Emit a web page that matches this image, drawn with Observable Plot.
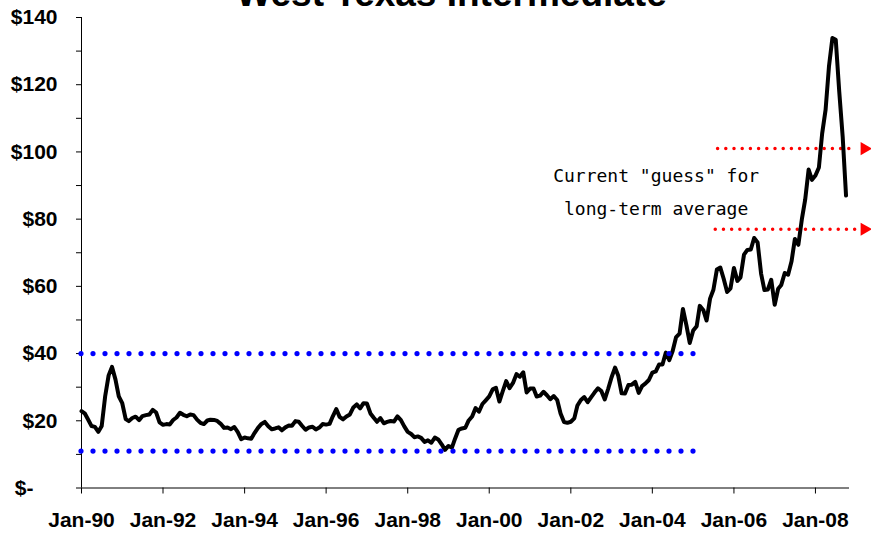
<!DOCTYPE html>
<html>
<head>
<meta charset="utf-8">
<script src="https://cdn.jsdelivr.net/npm/d3@7"></script>
<script src="https://cdn.jsdelivr.net/npm/@observablehq/plot@0.6"></script>
<style>
  html, body { margin: 0; padding: 0; background: #ffffff; }
  #chart svg { display: block; }
</style>
</head>
<body>
<div id="chart"></div>
<script>
// ---- Data (monthly WTI price, $/bbl) ----
const title = "West Texas Intermediate";
const years = [1990, 1991, 1992, 1993, 1994, 1995, 1996, 1997, 1998, 1999,
               2000, 2001, 2002, 2003, 2004, 2005, 2006, 2007, 2008];
const prices1990 = [22.86, 22.11, 20.39, 18.43, 18.20, 16.70, 18.45, 27.31, 33.51, 36.04, 32.33, 27.28];
const prices1991 = [25.23, 20.48, 19.90, 20.83, 21.23, 20.19, 21.40, 21.69, 21.89, 23.23, 22.46, 19.50];
const prices1992 = [18.79, 19.01, 18.92, 20.23, 20.98, 22.39, 21.78, 21.34, 21.88, 21.69, 20.34, 19.41];
const prices1993 = [19.03, 20.09, 20.32, 20.25, 19.95, 19.09, 17.89, 18.01, 17.50, 18.15, 16.61, 14.52];
const prices1994 = [15.03, 14.78, 14.68, 16.42, 17.89, 19.06, 19.66, 18.38, 17.45, 17.72, 18.07, 17.16];
const prices1995 = [18.04, 18.57, 18.54, 19.90, 19.74, 18.45, 17.33, 18.02, 18.23, 17.43, 17.99, 19.03];
const prices1996 = [18.86, 19.09, 21.33, 23.50, 21.17, 20.42, 21.30, 21.90, 23.97, 24.88, 23.71, 25.23];
const prices1997 = [25.13, 22.18, 20.97, 19.70, 20.82, 19.26, 19.66, 19.95, 19.80, 21.33, 20.19, 18.33];
const prices1998 = [16.72, 16.06, 15.12, 15.35, 14.91, 13.72, 14.17, 13.47, 15.03, 14.46, 13.00, 11.35];
const prices1999 = [12.52, 12.01, 14.68, 17.31, 17.72, 17.92, 20.10, 21.28, 23.80, 22.69, 25.00, 26.10];
const prices2000 = [27.26, 29.37, 29.84, 25.72, 28.79, 31.82, 29.70, 31.26, 33.88, 33.11, 34.42, 28.44];
const prices2001 = [29.59, 29.61, 27.24, 27.49, 28.63, 27.60, 26.43, 27.37, 26.20, 22.17, 19.64, 19.39];
const prices2002 = [19.72, 20.72, 24.53, 26.18, 27.04, 25.52, 26.97, 28.39, 29.66, 28.84, 26.35, 29.46];
const prices2003 = [32.95, 35.83, 33.51, 28.17, 28.11, 30.66, 30.75, 31.57, 28.31, 30.34, 31.11, 32.13];
const prices2004 = [34.31, 34.69, 36.74, 36.75, 40.28, 38.03, 40.78, 44.90, 45.94, 53.28, 48.47, 43.15];
const prices2005 = [46.84, 48.15, 54.19, 52.98, 49.83, 56.35, 59.00, 64.99, 65.59, 62.26, 58.32, 59.41];
const prices2006 = [65.49, 61.63, 62.69, 69.44, 70.84, 70.95, 74.41, 73.04, 63.80, 58.89, 59.08, 61.96];
const prices2007 = [54.51, 59.28, 60.44, 63.98, 63.46, 67.49, 74.12, 72.36, 79.92, 85.80, 94.77, 91.69];
const prices2008 = [92.97, 95.39, 105.45, 112.58, 125.40, 133.88, 133.37, 118.00, 104.50, 87.00];
const monthlyPrices = [prices1990, prices1991, prices1992, prices1993, prices1994, prices1995,
  prices1996, prices1997, prices1998, prices1999, prices2000, prices2001, prices2002,
  prices2003, prices2004, prices2005, prices2006, prices2007, prices2008];

// Axis ticks
const xTickYears = [1990, 1992, 1994, 1996, 1998, 2000, 2002, 2004, 2006, 2008];
const yTickValues = [0, 10, 20, 30, 40, 50, 60, 70, 80, 90, 100, 110, 120, 130, 140];
const xDomain = ["1990-01-01", "2008-11-01"];

// Annotations
const rangeLevels = [40, 11];            // blue dotted historical band
const rangeStart = "1990-01-01";
const rangeEnd = "2005-02-18";
const guessLevels = [101, 77];           // red dotted "guess" lines
const guessStarts = ["2005-08-12", "2005-07-22"];
const guessEnd = "2008-12-25";
const guessArrowAt = "2009-03-15";
const noteLines = ["Current \"guess\" for", "long-term average"];
const noteYs = [92.8, 83.0];
const noteX = "2004-02-04";

// ---- Build tables ----
const utc = s => new Date(s + "T00:00:00Z");
const series = [];
years.forEach((yr, i) => monthlyPrices[i].forEach((p, m) => {
  series.push({date: new Date(Date.UTC(yr, m, 1)), price: p});
}));
const rangeRows = rangeLevels.map(v => ({level: v, x1: utc(rangeStart), x2: utc(rangeEnd)}));
const guessRows = guessLevels.map((v, i) => ({level: v, x1: utc(guessStarts[i]), x2: utc(guessEnd), tip: utc(guessArrowAt)}));
const noteRows = noteLines.map((t, i) => ({text: t, y: noteYs[i], x: utc(noteX)}));

const chart = Plot.plot({
  width: 871,
  height: 533,
  marginLeft: 81,
  marginRight: 22,
  marginTop: 17,
  marginBottom: 45.5,
  style: {
    fontFamily: "'Liberation Sans', Arial, sans-serif",
    fontSize: "21px",
    fontWeight: "bold",
    background: "#ffffff",
    color: "#000000"
  },
  x: {type: "utc", domain: xDomain.map(utc)},
  y: {domain: [0, 140]},
  marks: [
    // axes lines
    Plot.ruleY([0], {stroke: "#000", strokeWidth: 1}),
    Plot.ruleX([utc(xDomain[0])], {stroke: "#000", strokeWidth: 1}),
    Plot.axisY(yTickValues, {
      tickSize: 5, tickPadding: 19, stroke: "#000",
      tickFormat: d => (d > 0 && d % 20 === 0) ? "$" + d : "",
      fontSize: 21, fontWeight: "bold"
    }),
    Plot.text(["$-"], {x: () => utc(xDomain[0]), y: () => 0, dx: -48, textAnchor: "end", fontSize: 21, fontWeight: "bold"}),
    Plot.axisX(xTickYears.map(y => new Date(Date.UTC(y, 0, 1))), {
      tickSize: 6, tickPadding: 18, stroke: "#000",
      tickFormat: d => "Jan-" + String(d.getUTCFullYear()).slice(2),
      fontSize: 21, fontWeight: "bold"
    }),
    // red "guess" lines with arrowheads
    Plot.ruleY(guessRows, {
      y: "level", x1: "x1", x2: "x2",
      stroke: "#ff0000", strokeWidth: 3.5, strokeDasharray: "0 8.2", strokeLinecap: "round"
    }),
    Plot.dot(guessRows, {
      x: "tip", y: "level", symbol: "triangle", rotate: 90, r: 4.9,
      fill: "#ff0000", stroke: "none"
    }),
    // price line
    Plot.line(series, {x: "date", y: "price", stroke: "#000", strokeWidth: 4,
      strokeLinejoin: "round", strokeLinecap: "round"}),
    // blue dotted band
    Plot.ruleY(rangeRows, {
      y: "level", x1: "x1", x2: "x2",
      stroke: "#0000ff", strokeWidth: 5.2, strokeDasharray: "0 12", strokeLinecap: "round"
    }),
    // note
    Plot.text(noteRows, {
      x: "x", y: "y", text: "text", textAnchor: "middle", lineAnchor: "middle",
      fontFamily: "'DejaVu Sans Mono', monospace", fontSize: 18, fontWeight: "normal", fill: "#000"
    }),
    // title (cut off at the top, as in the reference)
    Plot.text([title], {
      frameAnchor: "top-left", dx: 370, dy: -23, lineAnchor: "middle",
      textAnchor: "middle", fontSize: 37, fontWeight: "bold", fill: "#000"
    })
  ]
});
document.getElementById("chart").append(chart);
</script>
</body>
</html>
